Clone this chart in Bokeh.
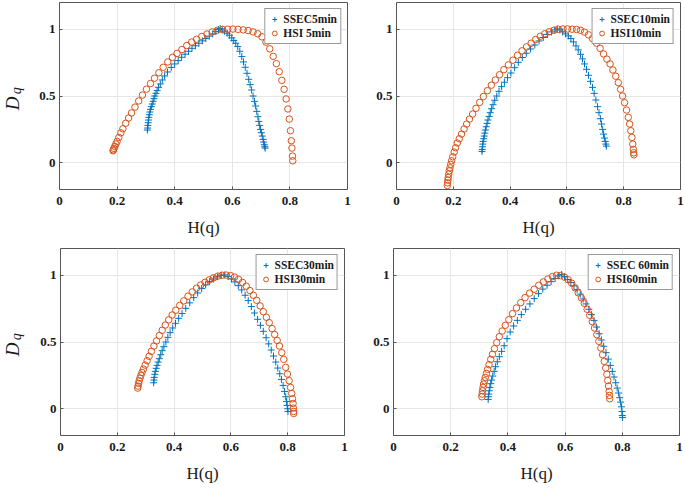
import math
from bokeh.plotting import figure
from bokeh.layouts import column, row
from bokeh.models import Label, FixedTicker
from bokeh.embed import file_html
from bokeh.resources import INLINE

# ---------------- data ----------------
x_ticks = [0, 0.2, 0.4, 0.6, 0.8, 1]
x_tick_labels = ["0", "0.2", "0.4", "0.6", "0.8", "1"]
y_ticks = [0, 0.5, 1]
y_tick_labels = ["0", "0.5", "1"]

ssec_labels = ["SSEC5min", "SSEC10min", "SSEC30min", "SSEC 60min"]
hsi_labels = ["HSI 5min", "HSI10min", "HSI30min", "HSI60min"]

# (H(q), D_q) pairs
ssec5 = [(0.305,0.245),(0.306,0.26),(0.307,0.28),(0.308,0.30),(0.309,0.32),(0.310,0.34),(0.312,0.36),
         (0.314,0.38),(0.316,0.40),(0.319,0.42),(0.322,0.44),(0.325,0.46),(0.328,0.48),(0.331,0.50),
         (0.335,0.52),(0.339,0.54),(0.344,0.565),(0.350,0.59),(0.357,0.62),(0.365,0.65),(0.375,0.68),
         (0.388,0.714),(0.400,0.74),(0.412,0.765),(0.424,0.79),(0.436,0.813),(0.448,0.835),(0.460,0.857),
         (0.472,0.876),(0.484,0.895),(0.496,0.913),(0.508,0.93),(0.520,0.948),(0.532,0.965),(0.543,0.982),
         (0.552,0.997),(0.558,1.005),(0.565,0.995),(0.573,0.985),(0.582,0.97),(0.590,0.955),(0.598,0.935),
         (0.605,0.915),(0.612,0.895),(0.619,0.87),(0.626,0.835),(0.633,0.795),(0.639,0.755),(0.645,0.715),
         (0.651,0.67),(0.657,0.625),(0.662,0.585),(0.667,0.545),(0.672,0.50),(0.677,0.46),(0.681,0.425),
         (0.685,0.385),(0.689,0.345),(0.692,0.31),(0.695,0.28),(0.698,0.25),(0.701,0.225),(0.704,0.20),
         (0.707,0.175),(0.709,0.155),(0.711,0.135),(0.713,0.12),(0.714,0.11)]
hsi5 = [(0.186,0.090),(0.187,0.097),(0.189,0.108),(0.192,0.122),(0.196,0.141),(0.200,0.160),(0.206,0.190),
        (0.213,0.224),(0.220,0.255),(0.230,0.296),(0.240,0.335),(0.250,0.373),(0.262,0.417),(0.275,0.463),
        (0.288,0.507),(0.302,0.551),(0.316,0.593),(0.330,0.633),(0.345,0.674),(0.360,0.715),(0.376,0.755),
        (0.392,0.789),(0.408,0.819),(0.425,0.848),(0.442,0.878),(0.459,0.904),(0.476,0.925),(0.494,0.946),
        (0.512,0.964),(0.530,0.980),(0.548,0.992),(0.566,0.998),(0.584,1.000),(0.602,1.001),(0.620,0.999),
        (0.638,0.995),(0.655,0.990),(0.672,0.980),(0.688,0.966),(0.703,0.943),(0.717,0.903),(0.730,0.853),
        (0.742,0.797),(0.753,0.742),(0.763,0.682),(0.772,0.617),(0.780,0.550),(0.787,0.478),(0.793,0.403),
        (0.798,0.327),(0.802,0.240),(0.805,0.165),(0.807,0.110),(0.809,0.050),(0.810,0.015)]
ssec10 = [(0.301,0.085),(0.302,0.100),(0.303,0.120),(0.304,0.140),(0.305,0.160),(0.307,0.180),(0.309,0.200),
          (0.311,0.222),(0.313,0.245),(0.316,0.270),(0.319,0.295),(0.322,0.320),(0.326,0.347),(0.330,0.375),
          (0.335,0.405),(0.340,0.435),(0.346,0.468),(0.353,0.500),(0.361,0.535),(0.370,0.570),(0.380,0.603),
          (0.391,0.637),(0.403,0.672),(0.416,0.712),(0.429,0.752),(0.443,0.788),(0.457,0.820),(0.472,0.852),
          (0.487,0.882),(0.502,0.912),(0.517,0.938),(0.532,0.960),(0.546,0.980),(0.558,0.995),(0.566,1.003),
          (0.575,0.995),(0.585,0.980),(0.595,0.965),(0.605,0.950),(0.614,0.930),(0.623,0.905),(0.632,0.875),
          (0.640,0.845),(0.648,0.812),(0.655,0.778),(0.662,0.740),(0.669,0.700),(0.676,0.655),(0.683,0.610),
          (0.690,0.565),(0.696,0.520),(0.702,0.470),(0.708,0.420),(0.713,0.375),(0.718,0.330),(0.722,0.290),
          (0.726,0.250),(0.729,0.215),(0.732,0.185),(0.735,0.160),(0.737,0.140),(0.739,0.125)]
hsi10 = [(0.179,-0.170),(0.180,-0.150),(0.181,-0.130),(0.182,-0.110),(0.184,-0.085),(0.186,-0.060),
         (0.188,-0.038),(0.191,-0.012),(0.194,0.015),(0.198,0.045),(0.203,0.080),(0.208,0.113),(0.214,0.148),
         (0.221,0.180),(0.229,0.215),(0.238,0.253),(0.247,0.290),(0.257,0.327),(0.268,0.365),(0.280,0.408),
         (0.293,0.452),(0.306,0.496),(0.320,0.540),(0.334,0.581),(0.348,0.620),(0.363,0.659),(0.378,0.697),
         (0.394,0.733),(0.410,0.768),(0.426,0.805),(0.442,0.838),(0.458,0.868),(0.474,0.895),(0.490,0.923),
         (0.506,0.947),(0.522,0.966),(0.538,0.981),(0.554,0.992),(0.570,0.999),(0.586,1.002),(0.602,1.002),
         (0.618,1.000),(0.634,0.998),(0.648,0.992),(0.662,0.978),(0.676,0.958),(0.690,0.930),(0.704,0.896),
         (0.717,0.857),(0.729,0.815),(0.741,0.776),(0.752,0.740),(0.762,0.695),(0.772,0.648),(0.781,0.600),
         (0.789,0.550),(0.796,0.500),(0.803,0.450),(0.810,0.395),(0.816,0.340),(0.821,0.290),(0.825,0.240),
         (0.829,0.190),(0.832,0.140),(0.834,0.100),(0.835,0.075),(0.836,0.060)]
ssec30 = [(0.328,0.195),(0.329,0.215),(0.330,0.235),(0.332,0.258),(0.334,0.280),(0.337,0.303),(0.340,0.325),
          (0.344,0.350),(0.348,0.375),(0.353,0.405),(0.358,0.435),(0.364,0.465),(0.371,0.500),(0.378,0.535),
          (0.386,0.570),(0.395,0.605),(0.405,0.640),(0.416,0.677),(0.428,0.713),(0.441,0.752),(0.455,0.793),
          (0.469,0.832),(0.483,0.867),(0.497,0.900),(0.511,0.928),(0.525,0.952),(0.539,0.972),(0.553,0.988),
          (0.566,0.999),(0.578,1.002),(0.590,0.990),(0.602,0.972),(0.614,0.950),(0.626,0.922),(0.638,0.890),
          (0.650,0.850),(0.661,0.810),(0.672,0.765),(0.683,0.717),(0.694,0.670),(0.704,0.625),(0.714,0.580),
          (0.724,0.532),(0.733,0.486),(0.742,0.440),(0.750,0.395),(0.758,0.350),(0.765,0.305),(0.772,0.262),
          (0.778,0.220),(0.784,0.175),(0.789,0.130),(0.793,0.090),(0.796,0.055),(0.798,0.025),(0.800,0.000),
          (0.801,-0.020)]
hsi30 = [(0.272,0.155),(0.273,0.170),(0.275,0.190),(0.277,0.210),(0.280,0.230),(0.283,0.250),(0.287,0.272),
         (0.292,0.297),(0.298,0.327),(0.305,0.360),(0.312,0.393),(0.320,0.430),(0.329,0.470),(0.338,0.508),
         (0.348,0.548),(0.358,0.588),(0.369,0.627),(0.381,0.666),(0.393,0.702),(0.406,0.738),(0.420,0.774),
         (0.434,0.808),(0.449,0.843),(0.464,0.875),(0.479,0.903),(0.494,0.927),(0.509,0.947),(0.524,0.965),
         (0.539,0.981),(0.554,0.993),(0.569,1.000),(0.584,1.001),(0.599,0.997),(0.613,0.986),(0.627,0.969),
         (0.641,0.946),(0.654,0.918),(0.667,0.885),(0.679,0.850),(0.691,0.812),(0.703,0.770),(0.714,0.727),
         (0.725,0.685),(0.735,0.645),(0.745,0.600),(0.754,0.556),(0.763,0.512),(0.771,0.470),(0.779,0.420),
         (0.786,0.370),(0.793,0.310),(0.799,0.260),(0.805,0.210),(0.810,0.160),(0.814,0.115),(0.817,0.075),
         (0.819,0.040),(0.820,0.005),(0.821,-0.020),(0.821,-0.035)]
ssec60 = [(0.331,0.070),(0.332,0.090),(0.333,0.110),(0.335,0.135),(0.337,0.160),(0.340,0.188),(0.343,0.215),
          (0.347,0.245),(0.352,0.280),(0.357,0.315),(0.363,0.352),(0.370,0.390),(0.378,0.430),(0.387,0.472),
          (0.397,0.525),(0.408,0.575),(0.420,0.620),(0.433,0.662),(0.447,0.705),(0.462,0.745),(0.477,0.785),
          (0.492,0.825),(0.507,0.862),(0.522,0.896),(0.537,0.925),(0.551,0.952),(0.565,0.975),(0.578,0.995),
          (0.588,1.005),(0.598,0.990),(0.609,0.968),(0.620,0.945),(0.631,0.920),(0.642,0.892),(0.653,0.858),
          (0.663,0.822),(0.673,0.785),(0.683,0.745),(0.692,0.705),(0.701,0.660),(0.710,0.612),(0.719,0.562),
          (0.727,0.515),(0.735,0.468),(0.743,0.420),(0.751,0.372),(0.758,0.325),(0.765,0.280),(0.771,0.238),
          (0.777,0.195),(0.782,0.155),(0.787,0.118),(0.791,0.083),(0.794,0.050),(0.797,0.015),(0.799,-0.020),
          (0.800,-0.050),(0.801,-0.065)]
hsi60 = [(0.309,0.090),(0.310,0.110),(0.311,0.135),(0.313,0.160),(0.315,0.185),(0.318,0.210),(0.321,0.235),
         (0.325,0.265),(0.329,0.295),(0.334,0.330),(0.340,0.370),(0.346,0.408),(0.353,0.450),(0.361,0.495),
         (0.370,0.540),(0.380,0.582),(0.391,0.625),(0.403,0.667),(0.416,0.712),(0.430,0.755),(0.445,0.795),
         (0.460,0.832),(0.476,0.866),(0.492,0.895),(0.508,0.925),(0.524,0.950),(0.540,0.972),(0.556,0.990),
         (0.570,1.000),(0.584,0.997),(0.598,0.985),(0.611,0.966),(0.623,0.940),(0.635,0.905),(0.646,0.868),
         (0.657,0.830),(0.667,0.790),(0.677,0.745),(0.686,0.700),(0.695,0.652),(0.703,0.605),(0.711,0.555),
         (0.718,0.505),(0.725,0.455),(0.731,0.405),(0.737,0.355),(0.742,0.305),(0.746,0.258),(0.749,0.212),
         (0.752,0.170),(0.754,0.130),(0.755,0.100),(0.756,0.075)]

# ---------------- styling ----------------
BLUE = "#0072BD"
ORANGE = "#D95319"
SERIF = "Liberation Serif"
FRAME = "#555555"
TEXT = "#1a1a1a"
Y_RANGE = (-0.2, 1.2)
STRIP = 26  # width of the strip that carries the y label


def make_panel(ssec, hsi, s_label, h_label, width, height, left, right, top, bottom):
    p = figure(width=width, height=height, x_range=(0, 1), y_range=Y_RANGE,
               output_backend="svg", toolbar_location=None,
               min_border_left=left, min_border_right=right,
               min_border_top=top, min_border_bottom=bottom)
    p.background_fill_color = "white"
    p.border_fill_color = "white"
    p.outline_line_color = FRAME
    p.outline_line_width = 1

    sx, sy = zip(*ssec)
    hx, hy = zip(*hsi)
    p.scatter(list(sx), list(sy), marker="cross", size=7, line_color=BLUE,
              line_width=1, legend_label=s_label)
    p.scatter(list(hx), list(hy), marker="circle", size=6.5, fill_color=None,
              line_color=ORANGE, line_width=1, legend_label=h_label)

    p.xaxis.ticker = FixedTicker(ticks=x_ticks)
    p.yaxis.ticker = FixedTicker(ticks=y_ticks)
    p.xaxis.major_label_overrides = {t: l for t, l in zip(x_ticks, x_tick_labels)}
    p.yaxis.major_label_overrides = {t: l for t, l in zip(y_ticks, y_tick_labels)}
    for ax in (p.xaxis[0], p.yaxis[0]):
        ax.axis_line_color = None
        ax.major_tick_in = 3
        ax.major_tick_out = 0
        ax.major_tick_line_color = FRAME
        ax.minor_tick_line_color = None
        ax.major_label_text_font = SERIF
        ax.major_label_text_font_style = "bold"
        ax.major_label_text_font_size = "13px"
        ax.major_label_text_color = TEXT
    p.xaxis.major_label_standoff = 7
    p.yaxis.major_label_standoff = 4
    p.xaxis.axis_label = "H(q)"
    p.xaxis.axis_label_text_font = SERIF
    p.xaxis.axis_label_text_font_style = "normal"
    p.xaxis.axis_label_text_font_size = "17px"
    p.xaxis.axis_label_text_color = TEXT
    p.xaxis.axis_label_standoff = 10

    p.grid.grid_line_color = "#e6e6e6"
    p.grid.grid_line_width = 1

    lg = p.legend[0]
    lg.location = "top_right"
    lg.margin = 6
    lg.padding = 3
    lg.spacing = 0
    lg.label_height = 14
    lg.glyph_height = 12
    lg.glyph_width = 12
    lg.label_standoff = 3
    lg.label_text_font = SERIF
    lg.label_text_font_style = "bold"
    lg.label_text_font_size = "11.5px"
    lg.label_text_color = TEXT
    lg.border_line_color = "#333333"
    lg.border_line_width = 1
    lg.background_fill_color = "white"
    lg.background_fill_alpha = 1
    return p


def make_ylabel(height, top, bottom):
    """narrow strip carrying the rotated 'D' with subscript 'q'"""
    f = figure(width=STRIP, height=height, x_range=(0, 1), y_range=Y_RANGE,
               output_backend="svg", toolbar_location=None,
               x_axis_type=None, y_axis_type=None,
               min_border_left=0, min_border_right=0,
               min_border_top=top, min_border_bottom=bottom)
    f.outline_line_color = None
    f.background_fill_color = "white"
    f.border_fill_color = "white"
    f.add_layout(Label(x=0.46, y=0.444, text="D", angle=math.pi / 2,
                       text_font=SERIF, text_font_style="italic",
                       text_font_size="19px", text_color=TEXT,
                       text_align="center", text_baseline="middle"))
    f.add_layout(Label(x=0.63, y=0.54, text="q", angle=math.pi / 2,
                       text_font=SERIF, text_font_style="italic",
                       text_font_size="14px", text_color=TEXT,
                       text_align="center", text_baseline="middle"))
    return f


# row 1: frames at y 2..189 ; row 2: frames at y 248..435
yl1 = make_ylabel(242, 2, 53)
p1 = make_panel(ssec5, hsi5, ssec_labels[0], hsi_labels[0], 335 + 18 - STRIP, 242, 59 - STRIP, 6, 2, 53)
p2 = make_panel(ssec10, hsi10, ssec_labels[1], hsi_labels[1], 332, 242, 43, 5, 2, 53)
yl3 = make_ylabel(246, 6, 53)
p3 = make_panel(ssec30, hsi30, ssec_labels[2], hsi_labels[2], 332 + 18 - STRIP, 246, 60 - STRIP, 6, 6, 53)
p4 = make_panel(ssec60, hsi60, ssec_labels[3], hsi_labels[3], 335, 246, 43, 6, 6, 53)

layout = column(row(yl1, p1, p2), row(yl3, p3, p4))

open("out.html", "w").write(file_html(layout, INLINE))
